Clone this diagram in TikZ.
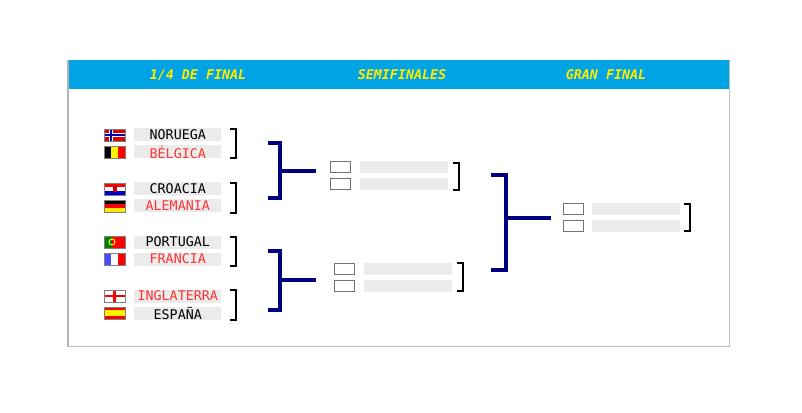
\documentclass[tikz,border=0pt]{standalone}
\usepackage{fontspec}
\setmonofont{DejaVu Sans Mono}
\begin{document}
\begin{tikzpicture}[x=0.75pt,y=-0.75pt,
  hdr/.style={font=\ttfamily\bfseries\itshape\fontsize{10}{12}\selectfont,text=yellow!95!orange},
  nm/.style={fill=gray!16,minimum width=87*0.75pt,minimum height=13*0.75pt,inner sep=0pt,font=\ttfamily\fontsize{10}{12}\selectfont,anchor=west},
  bar/.style={fill=gray!16,minimum width=88*0.75pt,minimum height=12*0.75pt,inner sep=0pt,anchor=west},
  sb/.style={draw=gray!110,line width=0.8pt,minimum width=20*0.75pt,minimum height=11*0.75pt,inner sep=0pt,anchor=west},
  br/.style={line width=1pt,black},
  big/.style={line width=3pt,color={rgb,255:red,0;green,0;blue,128}}]
\definecolor{hb}{RGB}{0,163,228}
\definecolor{tr}{RGB}{255,51,51}
\useasboundingbox (0,0) rectangle (802,413);
\fill[white] (0,0) rectangle (802,413);
\draw[gray!50] (67,60) rectangle (729,346);
\fill[hb] (67,60) rectangle (729,89);
\draw[gray!60,line width=1.5pt] (68,60) -- (68,346);
\node[hdr] (h1) at (198,75) {1/4 DE FINAL};
\node[hdr] (h2) at (402,75) {SEMIFINALES};
\node[hdr] (h3) at (606,75) {GRAN FINAL};
% names
\node[nm] (n1) at (134,135) {NORUEGA};
\node[nm,text=tr] (n2) at (134,152) {BÉLGICA};
\node[nm] (n3) at (134,189) {CROACIA};
\node[nm,text=tr] (n4) at (134,206) {ALEMANIA};
\node[nm] (n5) at (134,242) {PORTUGAL};
\node[nm,text=tr] (n6) at (134,259) {FRANCIA};
\node[nm,text=tr] (n7) at (134,296) {INGLATERRA};
\node[nm] (n8) at (134,313) {ESPAÑA};
% flags
\def\fl#1{(104,#1-6) rectangle (125,#1+6)}
% Norway
\fill[red!85!black] \fl{135};
\fill[white] (109,129) rectangle (113,141); \fill[white] (104,133) rectangle (125,137);
\fill[blue!70!black] (110,129) rectangle (112,141); \fill[blue!70!black] (104,134) rectangle (125,136);
% Belgium
\fill[black] (104,146) rectangle (111,158); \fill[yellow] (111,146) rectangle (118,158); \fill[red] (118,146) rectangle (125,158);
% Croatia
\fill[red] (104,183) rectangle (125,187); \fill[white] (104,187) rectangle (125,191); \fill[blue!80!black] (104,191) rectangle (125,195);
\fill[red!80!black] (113,186) rectangle (117,192);
% Germany
\fill[black] (104,200) rectangle (125,204); \fill[red] (104,204) rectangle (125,208); \fill[yellow!90!orange] (104,208) rectangle (125,212);
% Portugal
\fill[green!50!black] (104,236) rectangle (112,248); \fill[red] (112,236) rectangle (125,248);
\draw[yellow,line width=0.8pt] (112,242) circle (3);
% France
\fill[blue!70] (104,253) rectangle (111,265); \fill[white] (111,253) rectangle (118,265); \fill[red] (118,253) rectangle (125,265);
% England
\fill[white] (104,290) rectangle (125,302);
\fill[red] (113,290) rectangle (116,302); \fill[red] (104,295) rectangle (125,297);
% Spain
\fill[red] (104,307) rectangle (125,319); \fill[yellow] (104,310) rectangle (125,316);
\foreach \y in {135,152,189,206,242,259,296,313} \draw[gray] \fl{\y};
% small brackets
\draw[br] (230,129) -- (236,129) -- (236,158) -- (230,158);
\draw[br] (230,183) -- (236,183) -- (236,213) -- (230,213);
\draw[br] (230,237) -- (236,237) -- (236,266) -- (230,266);
\draw[br] (230,290) -- (236,290) -- (236,320) -- (230,320);
% big brackets
\draw[big] (268,143) -- (280,143) -- (280,198) -- (268,198);
\draw[big] (280,171) -- (316,171);
\draw[big] (268,251) -- (280,251) -- (280,310) -- (268,310);
\draw[big] (280,280) -- (316,280);
\draw[big] (491,175) -- (506,175) -- (506,270) -- (491,270);
\draw[big] (506,218) -- (551,218);
% semifinal 1
\node[sb] (s1) at (330,167) {}; \node[sb] (s2) at (330,184) {};
\node[bar] (b1) at (360,167) {}; \node[bar] (b2) at (360,184) {};
\draw[br] (453,163) -- (459,163) -- (459,190) -- (453,190);
% semifinal 2
\node[sb] (s3) at (334,269) {}; \node[sb] (s4) at (334,286) {};
\node[bar] (b3) at (364,269) {}; \node[bar] (b4) at (364,286) {};
\draw[br] (457,263) -- (463,263) -- (463,291) -- (457,291);
% final
\node[sb] (f1) at (563,209) {}; \node[sb] (f2) at (563,226) {};
\node[bar] (g1) at (592,209) {}; \node[bar] (g2) at (592,226) {};
\draw[br] (684,204) -- (690,204) -- (690,231) -- (684,231);
\end{tikzpicture}
\end{document}
